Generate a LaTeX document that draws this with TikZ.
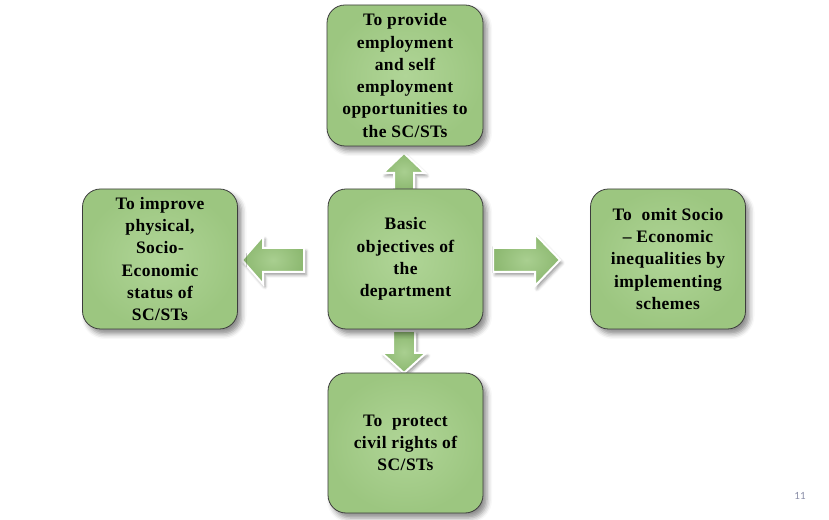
\documentclass[tikz,border=0pt]{standalone}
\usepackage{fontspec}
\setmainfont[LetterSpace=2.5]{Liberation Serif}
\newfontfamily\pagenumfont{Carlito}
\usetikzlibrary{shadows.blur,calc}
\definecolor{boxin}{HTML}{B0D597}
\definecolor{boxout}{HTML}{9CC680}
\definecolor{arrin}{HTML}{A9CF90}
\definecolor{arrout}{HTML}{8CB870}
\definecolor{boxline}{HTML}{3C3C3C}
\definecolor{pagenum}{HTML}{8B8FA8}
\tikzset{
  objbox/.style={draw=boxline, line width=0.8pt, rounded corners=18pt,
    inner color=boxin, outer color=boxout,
    minimum width=155pt, minimum height=140pt, align=center,
    font=\bfseries\fontsize{17.5}{22.3}\selectfont,
    blur shadow={shadow xshift=4pt, shadow yshift=-5pt, shadow blur radius=5pt, shadow opacity=45}},
  blockarrow/.style={draw=white, line width=2pt, line join=miter,
    inner color=arrin, outer color=arrout,
    blur shadow={shadow xshift=2pt, shadow yshift=-3pt, shadow blur radius=3pt, shadow opacity=40}}
}
\begin{document}
\begin{tikzpicture}[x=1pt,y=1pt]
\useasboundingbox (0,0) rectangle (829,519);
% arrows drawn first so the boxes sit over their ends
\path[blockarrow] (394,329) -- (394,346) -- (383,346) -- (404,366) -- (425,346) -- (414,346) -- (414,329) -- cycle;
\path[blockarrow] (393,188) -- (393,166) -- (382,166) -- (404,146) -- (426,166) -- (415,166) -- (415,188) -- cycle;
\path[blockarrow] (304,271) -- (263,271) -- (263,283) -- (242,259) -- (263,235) -- (263,247) -- (304,247) -- cycle;
\path[blockarrow] (493,271) -- (535,271) -- (535,285) -- (560,259) -- (535,233) -- (535,247) -- (493,247) -- cycle;
% boxes
\node[objbox, minimum height=141pt, minimum width=156pt] (t) at (405,443.5)
  {To provide\\employment\\and self\\employment\\opportunities to\\the SC/STs};
\node[objbox] (c) at (405.5,260)
  {Basic\\objectives of\\the\\department};
\node[objbox] (l) at (160,260)
  {To improve\\physical,\\Socio-\\Economic\\status of\\SC/STs};
\node[objbox] (r) at (668,260)
  {To\ \ omit Socio\\– Economic\\inequalities by\\implementing\\schemes};
\node[objbox] (b) at (405.5,76)
  {To\ \ protect\\civil rights of\\SC/STs};
% page number
\node[text=pagenum, font=\pagenumfont\fontsize{11}{12}\selectfont] (pg) at (800,23) {11};
\end{tikzpicture}
\end{document}
